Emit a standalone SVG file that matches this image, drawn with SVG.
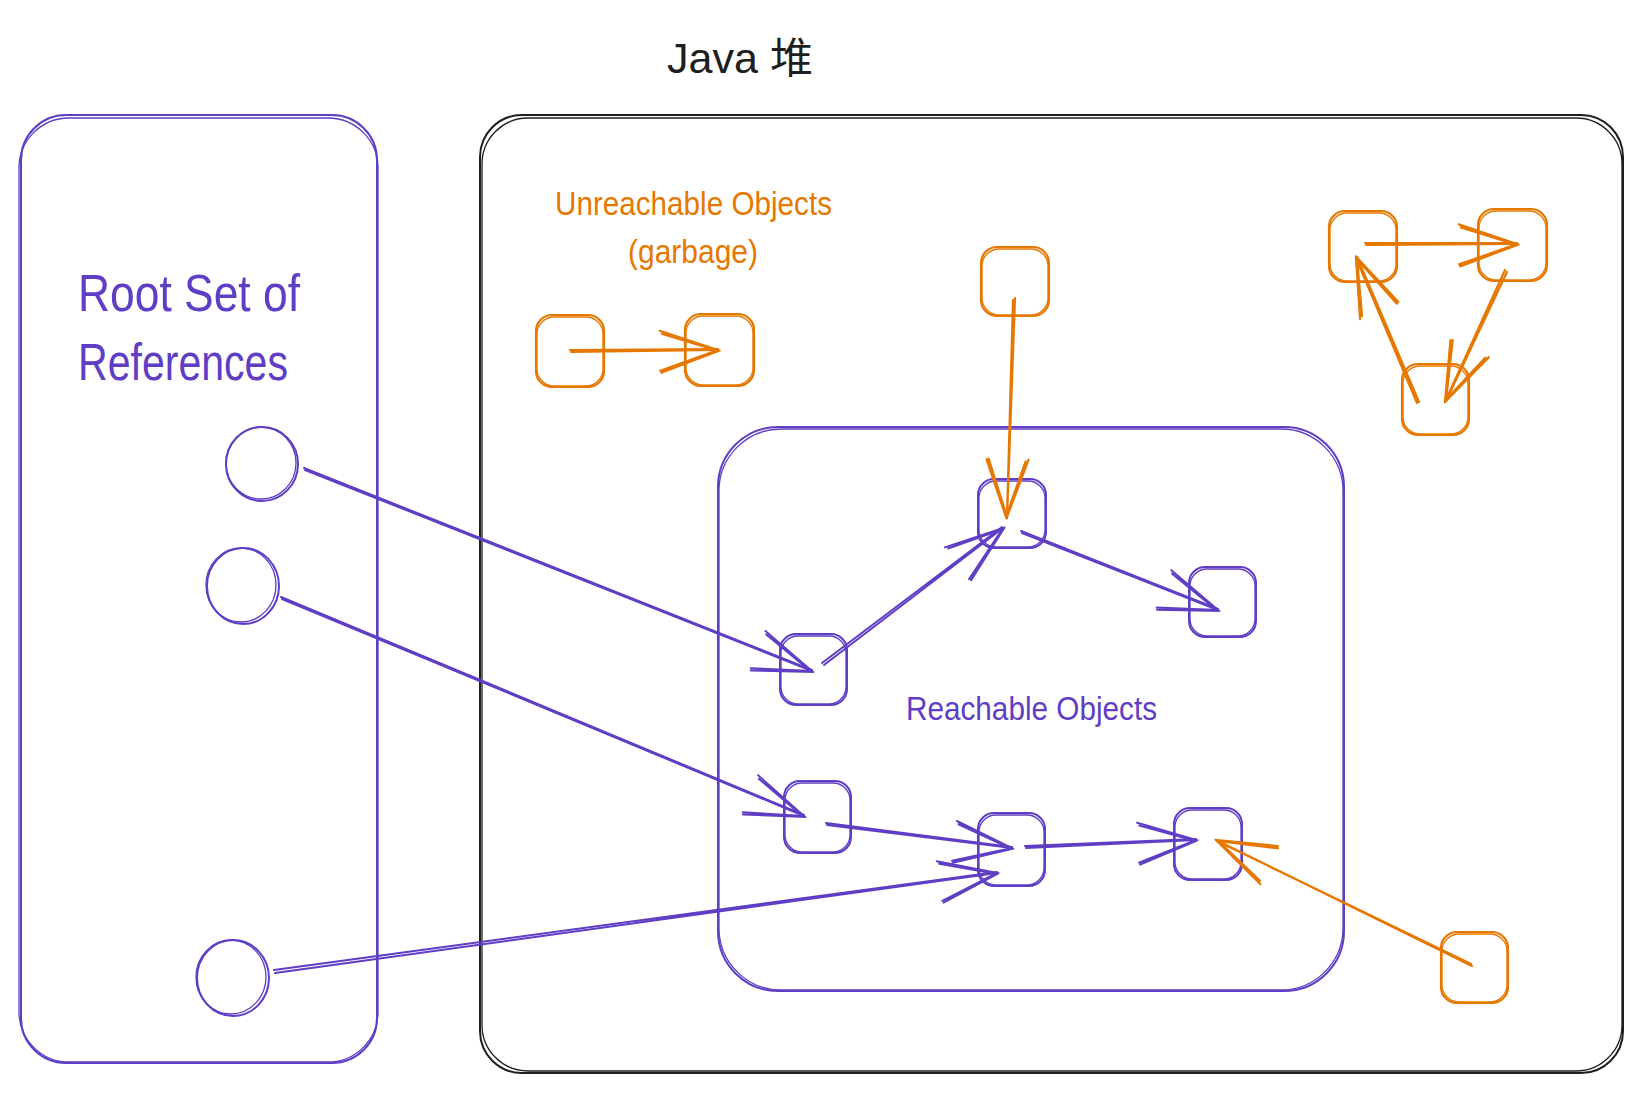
<svg xmlns="http://www.w3.org/2000/svg" width="1642" height="1094" viewBox="0 0 1642 1094">
<style>
.p{stroke:#5f3dc4;fill:none;stroke-width:2;stroke-linecap:round;stroke-linejoin:round}
.o{stroke:#e67700;fill:none;stroke-width:2.2;stroke-linecap:round;stroke-linejoin:round}
.k{stroke:#1e1e1e;fill:none;stroke-width:2;stroke-linecap:round}
.t2{stroke-width:1.3}
.txt{font-family:"Liberation Sans","Noto Sans CJK SC",sans-serif}
</style>
<defs>
<marker id="ap" markerUnits="userSpaceOnUse" orient="auto" markerWidth="80" markerHeight="60" viewBox="-70 -30 80 60" refX="0" refY="0" overflow="visible">
<path d="M-58,-20 L0,0 L-58,20 M-56,-17 L0,1 L-57,22" fill="none" stroke="#5f3dc4" stroke-width="2" stroke-linecap="round"/>
</marker>
<marker id="ao" markerUnits="userSpaceOnUse" orient="auto" markerWidth="80" markerHeight="60" viewBox="-70 -30 80 60" refX="0" refY="0" overflow="visible">
<path d="M-58,-20 L0,0 L-58,20 M-56,-17 L0,1 L-57,22" fill="none" stroke="#e67700" stroke-width="2.2" stroke-linecap="round"/>
</marker>
</defs>
<rect width="1642" height="1094" fill="#ffffff"/>

<g id="title">
<text class="txt" x="667" y="73" font-size="42" fill="#1e1e1e" textLength="146" lengthAdjust="spacingAndGlyphs">Java 堆</text>
</g>

<g id="root-set">
<rect class="p" x="21" y="115" width="356" height="948" rx="45"/>
<rect class="p t2" x="19" y="118" width="359" height="944" rx="50"/>
<text class="txt" font-size="52" fill="#5f3dc4"><tspan x="78" y="311" textLength="222" lengthAdjust="spacingAndGlyphs">Root Set of</tspan><tspan x="78" y="380" textLength="210" lengthAdjust="spacingAndGlyphs">References</tspan></text>
</g>

<g id="java-heap">
<rect class="k" x="480" y="115" width="1143" height="958" rx="42"/>
<rect class="k t2" x="482" y="118" width="1140" height="953" rx="46"/>
</g>

<g id="reachable-area">
<rect class="p" x="718" y="427" width="626" height="564" rx="60"/>
<rect class="p t2" x="719" y="429" width="624" height="561" rx="62"/>
<text class="txt" x="906" y="720" font-size="34" fill="#5f3dc4" textLength="251" lengthAdjust="spacingAndGlyphs">Reachable Objects</text>
</g>

<g id="unreachable-label">
<text class="txt" x="555" y="215" font-size="34" fill="#e67700" textLength="277" lengthAdjust="spacingAndGlyphs">Unreachable Objects</text>
<text class="txt" x="628" y="263" font-size="34" fill="#e67700" textLength="130" lengthAdjust="spacingAndGlyphs">(garbage)</text>
</g>

<g id="root-1"><ellipse class="p" cx="262" cy="464" rx="36" ry="37"/><ellipse class="p t2" cx="261" cy="463" rx="35" ry="36"/></g>
<g id="root-2"><ellipse class="p" cx="243" cy="586" rx="36" ry="38"/><ellipse class="p t2" cx="241" cy="585" rx="35" ry="37"/></g>
<g id="root-3"><ellipse class="p" cx="233" cy="978" rx="36" ry="38"/><ellipse class="p t2" cx="231" cy="977" rx="35" ry="37"/></g>

<g id="r1"><rect class="p" x="780" y="634" width="67" height="71" rx="16"/><rect class="p t2" x="781" y="636" width="65" height="68" rx="17"/></g>
<g id="r2"><rect class="p" x="978" y="479" width="68" height="69" rx="16"/><rect class="p t2" x="979" y="481" width="66" height="66" rx="17"/></g>
<g id="r3"><rect class="p" x="1189" y="567" width="67" height="70" rx="16"/><rect class="p t2" x="1190" y="569" width="65" height="67" rx="17"/></g>
<g id="r4"><rect class="p" x="784" y="781" width="67" height="72" rx="16"/><rect class="p t2" x="785" y="783" width="65" height="69" rx="17"/></g>
<g id="r5"><rect class="p" x="978" y="813" width="67" height="73" rx="16"/><rect class="p t2" x="979" y="815" width="65" height="70" rx="17"/></g>
<g id="r6"><rect class="p" x="1174" y="808" width="68" height="72" rx="16"/><rect class="p t2" x="1175" y="810" width="66" height="69" rx="17"/></g>

<g id="u1"><rect class="o" x="536" y="315" width="68" height="72" rx="16"/><rect class="o t2" x="537" y="317" width="66" height="69" rx="17"/></g>
<g id="u2"><rect class="o" x="685" y="314" width="69" height="72" rx="16"/><rect class="o t2" x="686" y="316" width="67" height="69" rx="17"/></g>
<g id="u3"><rect class="o" x="981" y="247" width="68" height="69" rx="16"/><rect class="o t2" x="982" y="249" width="66" height="66" rx="17"/></g>
<g id="u4"><rect class="o" x="1329" y="211" width="68" height="71" rx="16"/><rect class="o t2" x="1330" y="213" width="66" height="68" rx="17"/></g>
<g id="u5"><rect class="o" x="1478" y="209" width="69" height="72" rx="16"/><rect class="o t2" x="1479" y="211" width="67" height="69" rx="17"/></g>
<g id="u6"><rect class="o" x="1402" y="364" width="67" height="71" rx="16"/><rect class="o t2" x="1403" y="366" width="65" height="68" rx="17"/></g>
<g id="u7"><rect class="o" x="1441" y="932" width="67" height="71" rx="16"/><rect class="o t2" x="1442" y="934" width="65" height="68" rx="17"/></g>

<g id="connectors">
<path class="o" marker-end="url(#ao)" d="M570,350 L718,349 M571,352 L718,350"/>
<path class="o" marker-end="url(#ao)" d="M1015,298 L1007,518 M1013,300 L1007,517"/>
<path class="o" marker-end="url(#ao)" d="M1365,243 L1517,243 M1366,245 L1517,244"/>
<path class="o" marker-end="url(#ao)" d="M1505,270 L1445,402 M1507,272 L1446,401"/>
<path class="o" marker-end="url(#ao)" d="M1419,402 L1357,257 M1417,403 L1356,258"/>
<path class="o" marker-end="url(#ao)" d="M1472,966 L1216,840 M1471,964 L1217,841"/>
<path class="p" marker-end="url(#ap)" d="M304,468 L812,670 M305,470 L812,671"/>
<path class="p" marker-end="url(#ap)" d="M281,597 L804,815 M282,599 L804,816"/>
<path class="p" marker-end="url(#ap)" d="M274,970 L997,872 M275,973 L997,873"/>
<path class="p" marker-end="url(#ap)" d="M822,663 L1002,527 M824,665 L1003,528"/>
<path class="p" marker-end="url(#ap)" d="M1021,531 L1218,609 M1022,533 L1218,610"/>
<path class="p" marker-end="url(#ap)" d="M826,823 L1012,847 M827,825 L1012,848"/>
<path class="p" marker-end="url(#ap)" d="M1025,846 L1196,839 M1026,848 L1196,840"/>
</g>
</svg>
